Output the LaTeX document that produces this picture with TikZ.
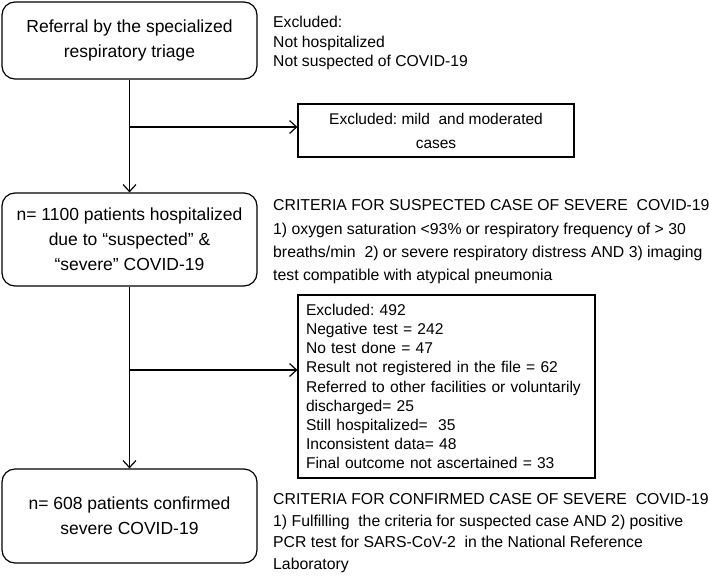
\documentclass[tikz,border=0pt]{standalone}
\usepackage{fontspec}
\setmainfont{Liberation Sans}
\usetikzlibrary{arrows.meta}
\frenchspacing
\begin{document}
\begin{tikzpicture}[x=1pt,y=-1pt,
  rbox/.style={draw, rounded corners=13pt, line width=1.2pt, align=center,
    font=\fontsize{17.5}{25}\selectfont, minimum width=255pt, inner sep=0pt},
  sbox/.style={draw, line width=1.2pt, inner sep=0pt},
  note/.style={anchor=north west, align=left, inner sep=0pt},
  arr/.style={line width=1.2pt, -{Straight Barb[length=7pt,width=13pt,line width=1.2pt]}},
  ln/.style={line width=1.2pt}]
\useasboundingbox (0,0) rectangle (709,576);

% main boxes
\node[rbox, minimum height=77pt] (b1) at (129.5,40.5)
  {Referral by the specialized\\respiratory triage};
\node[rbox, minimum height=93pt] (b2) at (129.5,239.5)
  {n= 1100 patients hospitalized\\due to “suspected” \&\\“severe” COVID-19};
\node[rbox, minimum height=94pt] (b4) at (129.5,516)
  {n= 608 patients confirmed\\severe COVID-19};

% exclusion boxes
\node[sbox, minimum width=276pt, minimum height=53pt, align=center,
  font=\fontsize{15.5}{24}\selectfont] (mild) at (436,130.5)
  {Excluded: mild\ \ and moderated\\cases};
\node[sbox, minimum width=297pt, minimum height=183pt, inner xsep=8pt,
  text width=281pt, align=left, font=\fontsize{15.6}{19.2}\selectfont] (b3) at (446.5,386.5)
  {Excluded: 492\\
   Negative test = 242\\
   No test done = 47\\
   Result not registered in the file = 62\\
   Referred to other facilities or voluntarily\\
   discharged= 25\\
   Still hospitalized=\ \ 35\\
   Inconsistent data= 48\\
   Final outcome not ascertained = 33};

% side notes
\node[note, font=\fontsize{15.7}{19.5}\selectfont] (n1) at (273,16)
  {Excluded:\\Not hospitalized\\Not suspected of COVID-19};
\node[note, font=\fontsize{15.8}{23.3}\selectfont] (n2) at (273,199.5)
  {CRITERIA FOR SUSPECTED CASE OF SEVERE\ \ COVID-19\\
   1) oxygen saturation <93\% or respiratory frequency of > 30\\
   breaths/min\ \ 2) or severe respiratory distress AND 3) imaging\\
   test compatible with atypical pneumonia};
\node[note, font=\fontsize{15.8}{21.8}\selectfont] (n3) at (273,493)
  {CRITERIA FOR CONFIRMED CASE OF SEVERE\ \ COVID-19\\
   1) Fulfilling\ \ the criteria for suspected case AND 2) positive\\
   PCR test for SARS-CoV-2\ \ in the National Reference\\
   Laboratory};

% connectors
\coordinate (j1) at (b1.south |- 0,127);
\coordinate (j2) at (b1.south |- 0,370);
\draw[arr] (b1.south) -- (b2.north);
\draw[arr] (j1) -- (mild.west |- j1);
\draw[arr] (b2.south) -- (b4.north);
\draw[arr] (j2) -- (b3.west |- j2);
\end{tikzpicture}
\end{document}
